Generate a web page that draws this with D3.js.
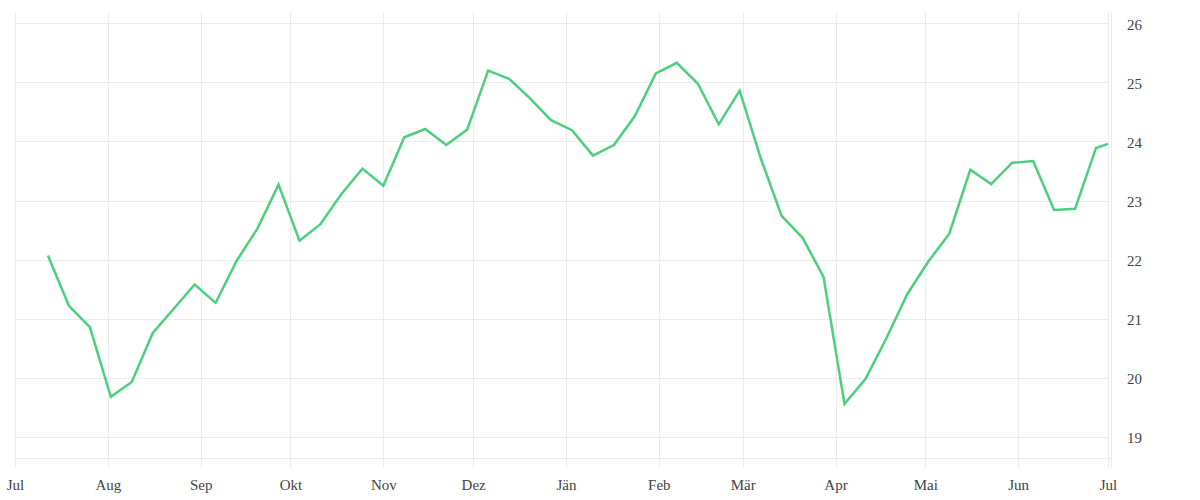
<!DOCTYPE html>
<html>
<head>
<meta charset="utf-8">
<script src="https://cdn.jsdelivr.net/npm/d3@7"></script>
<style>
  html, body { margin: 0; padding: 0; background: #fff; }
  svg { display: block; }
  text { font-family: "Liberation Serif", "DejaVu Serif", serif; fill: #444; }
</style>
</head>
<body>
<svg id="chart" width="1200" height="500"></svg>
<script>
// ---- data ----
const dates = [
  "2018-07-12","2018-07-19","2018-07-26","2018-08-02","2018-08-09","2018-08-16","2018-08-23","2018-08-30",
  "2018-09-06","2018-09-13","2018-09-20","2018-09-27","2018-10-04","2018-10-11","2018-10-18","2018-10-25",
  "2018-11-01","2018-11-08","2018-11-15","2018-11-22","2018-11-29","2018-12-06","2018-12-13","2018-12-20",
  "2018-12-27","2019-01-03","2019-01-10","2019-01-17","2019-01-24","2019-01-31","2019-02-07","2019-02-14",
  "2019-02-21","2019-02-28","2019-03-07","2019-03-14","2019-03-21","2019-03-28","2019-04-04","2019-04-11",
  "2019-04-18","2019-04-25","2019-05-02","2019-05-09","2019-05-16","2019-05-23","2019-05-30","2019-06-06",
  "2019-06-13","2019-06-20","2019-06-27","2019-07-01"
];
const values = [
  22.07,21.22,20.86,19.68,19.93,20.76,21.17,21.58,
  21.27,21.98,22.53,23.27,22.32,22.60,23.11,23.54,
  23.25,24.07,24.21,23.94,24.20,25.20,25.06,24.73,
  24.36,24.19,23.76,23.94,24.43,25.15,25.33,24.98,
  24.29,24.86,23.72,22.74,22.37,21.71,19.56,19.98,
  20.67,21.42,21.97,22.44,23.52,23.28,23.64,23.67,
  22.84,22.86,23.89,23.96
];
const monthLabels = ["Jul","Aug","Sep","Okt","Nov","Dez","Jän","Feb","Mär","Apr","Mai","Jun","Jul"];
const yTicks = [19,20,21,22,23,24,25,26];

// ---- layout ----
const svg = d3.select("#chart");
const mLeft = 15, mRight = 1111, mTop = 12, mBottom = 458;
const parse = d3.utcParse("%Y-%m-%d");
const data = dates.map((d, i) => ({ date: parse(d), value: values[i] }));

const x = d3.scaleUtc()
  .domain([parse("2018-07-01"), parse("2019-07-02")])
  .range([mLeft, mRight]);
const y = d3.scaleLinear()
  .domain([18.645, 26.19])
  .range([mBottom, mTop]);

const monthTicks = d3.utcMonth.range(parse("2018-07-01"), parse("2019-07-02"));

const gridColor = "#ececec";

// vertical grid lines
svg.append("g").selectAll("line")
  .data(monthTicks)
  .join("line")
  .attr("x1", d => Math.round(x(d)) + 0.5)
  .attr("x2", d => Math.round(x(d)) + 0.5)
  .attr("y1", mTop)
  .attr("y2", mBottom + 10)
  .attr("stroke", gridColor)
  .attr("stroke-width", 1);

// right border line
svg.append("line")
  .attr("x1", mRight + 0.5).attr("x2", mRight + 0.5)
  .attr("y1", mTop).attr("y2", mBottom + 10)
  .attr("stroke", gridColor);

// horizontal grid lines
svg.append("g").selectAll("line")
  .data(yTicks)
  .join("line")
  .attr("x1", mLeft)
  .attr("x2", mRight - 2)
  .attr("y1", d => Math.round(y(d)) + 0.5)
  .attr("y2", d => Math.round(y(d)) + 0.5)
  .attr("stroke", gridColor);

// bottom baseline
svg.append("line")
  .attr("x1", mLeft).attr("x2", mRight)
  .attr("y1", mBottom + 0.5).attr("y2", mBottom + 0.5)
  .attr("stroke", gridColor);

// x axis labels
const xAxis = d3.axisBottom(x)
  .tickValues(monthTicks)
  .tickFormat((d, i) => monthLabels[i])
  .tickSize(0)
  .tickPadding(0);
const gx = svg.append("g")
  .attr("transform", `translate(0, ${mBottom + 21})`)
  .call(xAxis);
gx.select(".domain").remove();
gx.selectAll("text")
  .attr("font-size", 15)
  .attr("fill", "#444")
  .style("font-family", '"Liberation Serif", serif');

// y axis labels (right)
const yAxis = d3.axisRight(y)
  .tickValues(yTicks)
  .tickFormat(d3.format("d"))
  .tickSize(0)
  .tickPadding(0);
const gy = svg.append("g")
  .attr("transform", `translate(1127, 1)`)
  .call(yAxis);
gy.select(".domain").remove();
gy.selectAll("text")
  .attr("font-size", 15)
  .attr("fill", "#444")
  .style("font-family", '"Liberation Serif", serif');

// line
const line = d3.line()
  .x(d => x(d.date))
  .y(d => y(d.value));

svg.append("path")
  .datum(data)
  .attr("d", line)
  .attr("fill", "none")
  .attr("stroke", "#4cd07d")
  .attr("stroke-width", 2.5)
  .attr("stroke-linejoin", "miter");
</script>
</body>
</html>
